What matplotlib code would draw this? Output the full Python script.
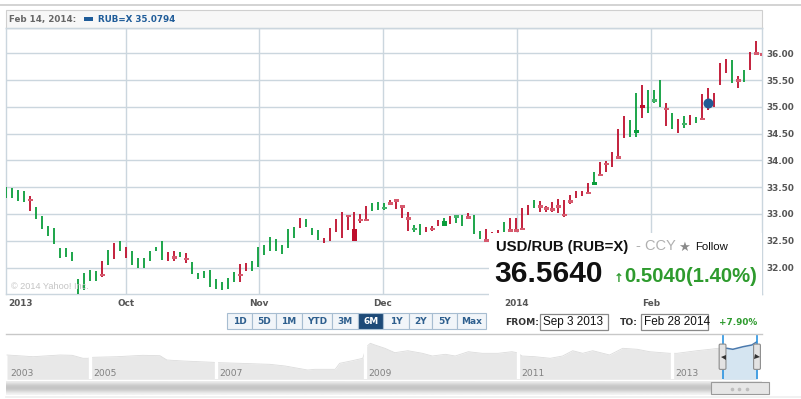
import numpy as np
import matplotlib
matplotlib.use("Agg")
import matplotlib.pyplot as plt
from matplotlib.patches import Rectangle, FancyBboxPatch
import matplotlib.transforms as mtransforms

plt.rcParams['font.family'] = ['DejaVu Sans']

# ---------------- data (daily bars, Sep 3 2013 - Feb 2014) ----------------
lows = [33.30, 33.30, 33.25, 33.23, 33.06, 32.90, 32.72, 32.58, 32.44, 32.18,
        32.19, 32.13, 31.48, 31.58, 31.74, 31.75, 31.83, 32.05, 32.16, 32.30,
        32.17, 32.05, 32.00, 32.00, 32.13, 32.30, 32.14, 32.13, 32.13, 32.19,
        32.08, 31.88, 31.78, 31.80, 31.63, 31.60, 31.58, 31.60, 31.73, 31.73,
        31.93, 31.93, 32.01, 32.24, 32.30, 32.31, 32.26, 32.36, 32.56, 32.73,
        32.75, 32.61, 32.52, 32.46, 32.50, 32.66, 32.55, 32.70, 32.50, 32.84,
        32.86, 33.06, 33.08, 33.08, 33.17, 33.09, 32.93, 32.68, 32.66, 32.60,
        32.66, 32.68, 32.78, 32.78, 32.82, 32.84, 32.78, 32.92, 32.62, 32.53,
        32.49, 32.45, 32.50, 32.67, 32.67, 32.67, 32.72, 32.98, 33.12, 33.03,
        33.03, 33.04, 33.01, 32.95, 33.19, 33.29, 33.33, 33.37, 33.54, 33.72,
        33.79, 33.88, 34.04, 34.41, 34.43, 34.43, 34.79, 34.88, 35.07, 35.00,
        34.64, 34.58, 34.52, 34.60, 34.66, 34.69, 34.77, 34.94, 34.99, 35.40,
        35.63, 35.45, 35.35, 35.47, 35.68, 35.97, 35.95]
highs = [33.50, 33.48, 33.45, 33.43, 33.34, 33.13, 32.96, 32.78, 32.73, 32.36,
         32.36, 32.29, 31.78, 31.90, 31.96, 31.94, 32.13, 32.33, 32.45, 32.50,
         32.39, 32.31, 32.17, 32.17, 32.31, 32.39, 32.50, 32.29, 32.30, 32.29,
         32.27, 32.10, 31.90, 31.94, 31.96, 31.79, 31.73, 31.81, 31.91, 32.07,
         32.08, 32.13, 32.38, 32.42, 32.57, 32.53, 32.42, 32.72, 32.75, 32.92,
         32.91, 32.73, 32.70, 32.56, 32.73, 32.90, 33.04, 32.98, 33.03, 33.00,
         33.15, 33.20, 33.22, 33.21, 33.26, 33.26, 33.15, 33.04, 32.80, 32.81,
         32.76, 32.78, 32.88, 32.93, 32.96, 32.96, 32.98, 33.01, 32.98, 32.68,
         32.72, 32.67, 32.70, 32.85, 32.92, 32.93, 33.12, 33.17, 33.26, 33.24,
         33.14, 33.23, 33.28, 33.26, 33.36, 33.43, 33.43, 33.57, 33.79, 33.97,
         33.98, 34.16, 34.59, 34.82, 34.76, 35.25, 35.41, 35.32, 35.32, 35.51,
         35.07, 34.88, 34.77, 34.82, 34.85, 34.81, 35.24, 35.35, 35.25, 35.82,
         35.89, 35.88, 35.58, 35.69, 36.02, 36.22, 36.00]
direction = ("GGGGRGGGGG" "GGGGGGRGRG" "RGGGGGGRRG" "RGGGGGGGGR" "RGGGGGGGGR"
             "GGGRRRRRRR" "RGGGRRRRGG" "RRRGRGGRGG" "RRRGRRRRGR" "RRRRRRRRGR"
             "RRRRGGRGGG" "RGRGRGRRRR" "RGRGRRR")
body_idx = [4, 16, 28, 30, 39, 57, 58, 59, 60, 63, 64, 65, 66, 67, 68, 71, 73, 75,
            77, 80, 84, 85, 86, 89, 90, 91, 92, 93, 94, 97, 98, 99, 100, 102, 105,
            106, 108, 110, 113, 116, 122, 125, 126]
body_open = [33.26, 31.86, 32.19, 32.16, 31.86, 32.96, 32.72, 32.89, 32.89, 33.11,
             33.20, 33.25, 33.14, 32.91, 32.72, 32.72, 32.78, 32.95, 32.93, 32.50,
             32.69, 32.69, 32.72, 33.14, 33.10, 33.08, 33.14, 32.98, 33.23, 33.39,
             33.54, 33.73, 33.93, 34.05, 34.52, 35.04, 35.12, 34.96, 34.68, 34.77,
             35.49, 36.00, 35.98]
body_close = [33.26, 31.86, 32.19, 32.16, 31.86, 32.96, 32.50, 32.89, 32.89, 33.11,
              33.20, 33.25, 33.14, 32.91, 32.72, 32.72, 32.87, 32.95, 32.93, 32.50,
              32.69, 32.69, 32.72, 33.14, 33.10, 33.08, 33.14, 32.98, 33.23, 33.39,
              33.59, 33.73, 33.93, 34.05, 34.57, 34.97, 35.12, 34.96, 34.68, 34.77,
              35.49, 36.00, 35.98]
hover_idx = 117
hover_value = 35.0794
month_labels = ['2013', 'Oct', 'Nov', 'Dec', '2014', 'Feb']
month_pos = [0, 20, 42.07, 62.73, 85.07, 107.4]
y_ticks = [32.00, 32.50, 33.00, 33.50, 34.00, 34.50, 35.00, 35.50, 36.00]

# navigator (long history)
nav_years = [2003.00, 2003.63, 2004.28, 2004.57, 2004.83, 2004.95, 2005.05, 2005.43,
             2005.84, 2006.11, 2006.22, 2006.48, 2006.95, 2007.05, 2007.32, 2007.59,
             2007.72, 2007.93, 2008.23, 2008.33, 2008.60, 2008.66, 2008.83, 2008.97,
             2009.02, 2009.07, 2009.13, 2009.26, 2009.39, 2009.56, 2009.75, 2009.88,
             2010.05, 2010.18, 2010.35, 2010.53, 2010.74, 2010.92, 2010.99, 2011.05,
             2011.22, 2011.42, 2011.58, 2011.71, 2011.84, 2011.97, 2012.19, 2012.36,
             2012.55, 2012.71, 2012.97, 2013.07, 2013.34, 2013.52, 2013.63, 2013.75,
             2013.83, 2013.97, 2014.09, 2014.16]
nav_values = [30.23, 29.43, 30.23, 30.08, 28.68, 28.68, 29.15, 29.43,
              30.08, 29.90, 27.88, 27.41, 26.80, 26.61, 26.33, 26.00,
              25.86, 25.06, 23.18, 23.51, 23.51, 26.33, 27.55, 28.68,
              34.12, 35.72, 34.92, 33.37, 31.31, 32.24, 31.02, 29.76,
              30.55, 29.76, 31.77, 31.02, 31.02, 31.77, 31.31, 29.76,
              29.43, 28.68, 29.76, 32.24, 31.02, 32.24, 30.23, 33.37,
              32.90, 31.77, 31.02, 31.02, 32.24, 32.90, 33.37, 33.37,
              32.90, 34.12, 34.92, 36.47]
nav_year_labels = [2003, 2005, 2007, 2009, 2011, 2013]
sel_start, sel_end = 2013.69, 2014.16

# ---------------- styling ----------------
W, H = 801, 399
GREEN = '#0b9e3c'
RED = '#be0f2d'
GRID = '#cbd6de'
fig = plt.figure(figsize=(W / 100, H / 100), dpi=100)
fig.patch.set_facecolor('white')

def px_axes(x0, y0, x1, y1, **kw):
    return fig.add_axes([x0 / W, 1 - y1 / H, (x1 - x0) / W, (y1 - y0) / H], **kw)

# main chart
ax = px_axes(6.3, 28, 761.7, 294.3)
ax.set_xlim(0, 125.9)
ax.set_ylim(31.5, 36.472)
for s in ax.spines.values():
    s.set_color(GRID)
    s.set_linewidth(1.0)
ax.set_xticks(month_pos[1:])
ax.set_xticklabels([])
ax.tick_params(axis='x', length=0)
ax.yaxis.tick_right()
ax.set_yticks(y_ticks)
ax.set_yticklabels(['%.2f' % v for v in y_ticks], fontsize=6.4, fontweight='bold',
                   color='#555555')
ax.tick_params(axis='y', length=0, pad=3.5)
ax.grid(True, color=GRID, lw=1.0)
ax.set_axisbelow(True)

n = len(lows)
xs = np.arange(n)
cols = [GREEN if d == 'G' else RED for d in direction]
ax.vlines(xs, lows, highs, colors=cols, lw=1.3, zorder=3)
for i, o, c in zip(body_idx, body_open, body_close):
    base = GREEN if direction[i] == 'G' else RED
    if abs(o - c) < 0.03:
        col = '#45b46a' if direction[i] == 'G' else '#d65a6e'
        ax.add_patch(Rectangle((i - 0.42, (o + c) / 2 - 0.025), 0.84, 0.05,
                               fc=col, ec='none', zorder=4))
    else:
        ax.add_patch(Rectangle((i - 0.42, min(o, c)), 0.84, abs(o - c),
                               fc=base, ec='none', zorder=4))
ax.plot([hover_idx], [hover_value], 'o', ms=7.2, color='#245a94', mew=0, zorder=6)

# navigator
NAV_LO, NAV_HI = 18.82, 39.94
nav = px_axes(6.3, 334.3, 761.7, 379.3)
year_knots = [2003.0, 2005, 2007, 2009, 2011, 2013, 2014.16]
pos_knots = [7, 90, 216, 365, 518, 672, 757]
def ypos(y):
    return np.interp(y, year_knots, pos_knots)
npos = ypos(nav_years)
nav.set_xlim(6.3, 761.7)
nav.set_ylim(NAV_LO, NAV_HI)
nav.axis('off')
nav.fill_between(npos, NAV_LO, nav_values, color='#e8e8e8', lw=0, zorder=1)
nav.plot(npos, nav_values, color='#dcdcdc', lw=0.6, zorder=2)
s0, s1 = ypos(sel_start), ypos(sel_end)
nav.add_patch(Rectangle((s0, NAV_LO), s1 - s0, NAV_HI - NAV_LO, fc='white', ec='none',
                        zorder=3))
sel_box = mtransforms.TransformedBbox(mtransforms.Bbox([[s0, NAV_LO], [s1, NAV_HI]]),
                                      nav.transData)
fb = nav.fill_between(npos, NAV_LO, nav_values, color='#d5e5f1', lw=0, zorder=4)
fb.set_clip_box(sel_box)
ln, = nav.plot(npos, nav_values, color='#4a79ad', lw=1.1, zorder=5)
ln.set_clip_box(sel_box)
for yl in nav_year_labels[1:]:
    nav.axvline(ypos(yl), color='white', lw=2.4, zorder=6)
nav.axvline(s0, color='#2b93e0', lw=1.2, zorder=8)
nav.axvline(s1, color='#2b93e0', lw=1.2, zorder=8)

# overlay in pixel coordinates
ov = fig.add_axes([0, 0, 1, 1], zorder=10)
ov.patch.set_alpha(0)
ov.axis('off')

# scrollbar gradient
grad = np.array([[0.92], [0.86], [0.80], [0.77], [0.78], [0.83], [0.90], [0.95]])
ov.imshow(grad, cmap='gray', vmin=0, vmax=1, aspect='auto',
          extent=[6.3, 761.7, 395, 381.7], interpolation='bilinear', zorder=1)
ov.set_xlim(0, W)
ov.set_ylim(H, 0)

bx = mtransforms.blended_transform_factory(ax.transData, ov.transData)
nx = mtransforms.blended_transform_factory(nav.transData, ov.transData)

# navigator year labels
for yl in nav_year_labels:
    ov.text(ypos(yl) + 3, 373, str(yl), fontsize=6.6, color='#808080', va='center',
            ha='left', transform=nx, zorder=3)

# top separator line and header
ov.plot([0, W], [4.7, 4.7], color='#d0d0d0', lw=1.3, zorder=2)
ov.add_patch(Rectangle((6.3, 10), 755.4, 18, fc='#f7f7f7', ec='#cfcfcf', lw=0.8, zorder=2))
ov.plot([6.3, 761.7], [28, 28], color=GRID, lw=1.0, zorder=3)
ov.text(9, 19.3, 'Feb 14, 2014:', fontsize=6.3, fontweight='bold', color='#666666',
        va='center', ha='left', zorder=4)
ov.add_patch(Rectangle((84, 16.8), 9, 4.5, fc='#1f5c99', ec='none', zorder=4))
ov.text(98, 19.3, 'RUB=X %.4f' % hover_value, fontsize=6.3, fontweight='bold',
        color='#1f5c99', va='center', ha='left', zorder=4)

# copyright
ov.text(11, 286.3, '\u00a9 2014 Yahoo! Inc.', fontsize=6.6, color='#c4c4c4',
        family='Liberation Sans', va='center', ha='left', zorder=2)

# quote overlay box
ov.add_patch(Rectangle((489.3, 233.3), 272.2, 79, fc='white', ec='none', zorder=2))
ov.text(496, 250.5, 'USD/RUB (RUB=X)', fontsize=10.7, fontweight='bold', color='#111111',
        family='Liberation Sans', va='baseline', ha='left', zorder=4)
ov.text(636, 250.5, '- CCY', fontsize=10.5, color='#b0b0b0', family='Liberation Sans',
        va='baseline', ha='left', zorder=4)
ov.text(678.5, 250.5, '\u2605', fontsize=9.5, color='#8a8a8a', va='baseline', ha='left',
        zorder=4)
ov.text(695, 249.5, 'Follow', fontsize=8.2, color='#111111', family='Liberation Sans',
        va='baseline', ha='left', zorder=4)
ov.text(494, 282.5, '36.5640', fontsize=21.5, fontweight='bold', color='#111111',
        family='Liberation Sans', va='baseline', ha='left', zorder=4)
ov.text(613.5, 281.5, '\u2191', fontsize=8.5, fontweight='bold', color='#2e9b2e',
        va='baseline', ha='left', zorder=4)
ov.text(624.5, 281.7, '0.5040(1.40%)', fontsize=14.6, fontweight='bold', color='#2e9b2e',
        family='Liberation Sans', va='baseline', ha='left', zorder=4)

# month labels
for k, (lab, pos) in enumerate(zip(month_labels, month_pos)):
    if k == 0:
        ov.text(pos, 303.3, lab, fontsize=6.4, fontweight='bold', color='#555555',
                va='center', ha='left', zorder=5,
                transform=bx + mtransforms.ScaledTranslation(0.018, 0, fig.dpi_scale_trans))
    else:
        ov.text(pos, 303.3, lab, fontsize=6.4, fontweight='bold', color='#555555',
                va='center', ha='center', zorder=5, transform=bx)

# range buttons
btn_labels = ['1D', '5D', '1M', 'YTD', '3M', '6M', '1Y', '2Y', '5Y', 'Max']
edges = [227.3, 251.7, 276, 301.7, 332.3, 358.3, 383.3, 409.3, 432.3, 456.7, 486]
for lab, x0, x1 in zip(btn_labels, edges[:-1], edges[1:]):
    sel = lab == '6M'
    ov.add_patch(Rectangle((x0, 313.3), x1 - x0, 16, fc='#1d4a78' if sel else '#f1f5f9',
                           ec='#a7bdd1', lw=0.8, zorder=3))
    ov.text((x0 + x1) / 2, 321.5, lab, fontsize=6.5, fontweight='bold',
            color='white' if sel else '#2e5f8e', va='center', ha='center', zorder=4)

# from / to
ov.text(505, 322.5, 'FROM:', fontsize=6.6, fontweight='bold', color='#333333',
        va='center', ha='left', zorder=4)
ov.add_patch(Rectangle((540.3, 313.5), 67.2, 16, fc='white', ec='#8a8a8a', lw=0.9, zorder=3))
ov.text(543.3, 322, 'Sep 3 2013', fontsize=8.5, color='#111111', family='Liberation Sans',
        va='center', ha='left', zorder=4)
ov.text(619.5, 322.5, 'TO:', fontsize=6.6, fontweight='bold', color='#333333',
        va='center', ha='left', zorder=4)
ov.add_patch(Rectangle((640.7, 313.5), 67, 16, fc='white', ec='#8a8a8a', lw=0.9, zorder=3))
ov.text(643.7, 322, 'Feb 28 2014', fontsize=8.5, color='#111111', family='Liberation Sans',
        va='center', ha='left', zorder=4)
ov.text(719.3, 322.5, '+7.90%', fontsize=6.4, fontweight='bold', color='#2e9b2e',
        va='center', ha='left', zorder=4)

# navigator frame line, handles, scrollbar thumb
ov.plot([6.3, 761.7], [334.3, 334.3], color='#c8c8c8', lw=1.0, zorder=3)
for hx, mk in ((s0, '<'), (s1, '>')):
    ov.add_patch(FancyBboxPatch((hx - 3.0, 344.5), 6.0, 24.5,
                                boxstyle='round,pad=0.4,rounding_size=1.2',
                                fc='#e3e3e3', ec='#8c8c8c', lw=0.8, zorder=4, transform=nx))
    ov.plot([hx], [356.8], marker=mk, ms=3.6, color='#333333', mew=0, zorder=5, transform=nx)
ov.add_patch(Rectangle((711.3, 381.9), 57.3, 12.4, fc='#e6e6e6', ec='#9a9a9a', lw=0.8, zorder=3))
ov.plot([731.7, 739, 746.5], [389, 389, 389], 'o', ms=2.6, color='#bdbdbd', mew=0, zorder=4)
ov.plot([6.3, 801], [397, 397], color='#efefef', lw=1.2, zorder=2)

fig.savefig('out.png', dpi=100)
